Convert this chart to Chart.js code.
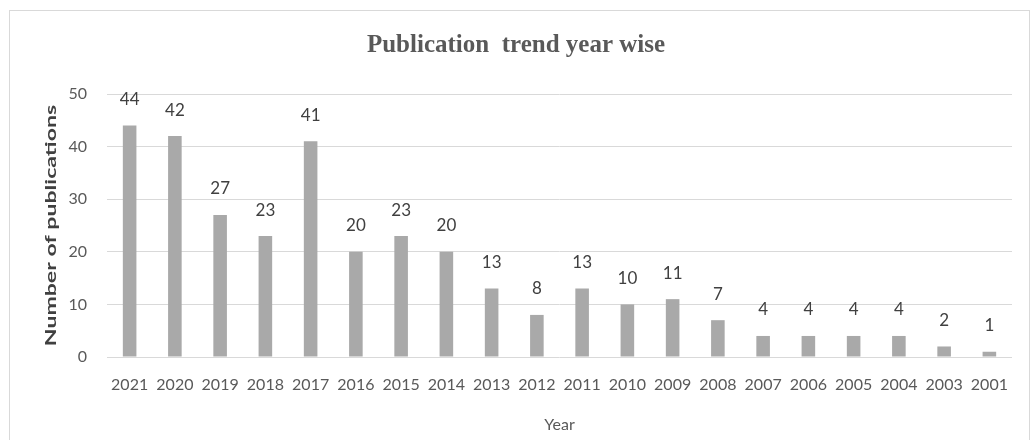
<!DOCTYPE html>
<html>
<head>
<meta charset="utf-8">
<script src="https://cdn.jsdelivr.net/npm/chart.js@4/dist/chart.umd.min.js"></script>
<style>
  html, body { margin: 0; padding: 0; background: #ffffff; }
  #wrap { width: 1034px; height: 440px; position: relative; }
</style>
</head>
<body>
<div id="wrap"><canvas id="c"></canvas></div>
<script>
const categories = ['2021','2020','2019','2018','2017','2016','2015','2014','2013','2012','2011','2010','2009','2008','2007','2006','2005','2004','2003','2001'];
const publications = [44, 42, 27, 23, 41, 20, 23, 20, 13, 8, 13, 10, 11, 7, 4, 4, 4, 4, 2, 1];
const yTicks = [0, 10, 20, 30, 40, 50];
const chartTitle = 'Publication  trend year wise';
const yTitle = 'Number of publications';
const xTitle = 'Year';

const frame = {
  id: 'frame',
  beforeDraw(chart) {
    const ctx = chart.ctx;
    ctx.save();
    ctx.fillStyle = '#ffffff';
    ctx.fillRect(0, 0, chart.width, chart.height);
    ctx.strokeStyle = '#d9d9d9';
    ctx.lineWidth = 1;
    ctx.strokeRect(9.5, 10.5, 1020, 440);
    ctx.restore();
  }
};

const valueLabels = {
  id: 'valueLabels',
  afterDatasetsDraw(chart) {
    const ctx = chart.ctx;
    const meta = chart.getDatasetMeta(0);
    ctx.save();
    ctx.font = '17px Lato';
    ctx.fillStyle = '#404040';
    ctx.textAlign = 'center';
    ctx.textBaseline = 'middle';
    meta.data.forEach((bar, i) => {
      ctx.fillText(String(publications[i]), bar.x, bar.y - 26);
    });
    ctx.restore();
  }
};

const yAxisTitle = {
  id: 'yAxisTitle',
  afterDraw(chart) {
    const ctx = chart.ctx;
    const area = chart.chartArea;
    const ys = chart.scales.y;
    ctx.save();
    ctx.translate(ys.left + 31, (area.top + area.bottom) / 2);
    ctx.rotate(-Math.PI / 2);
    ctx.scale(1.54, 1);
    ctx.font = 'bold 15px Lato';
    ctx.fillStyle = '#404040';
    ctx.textAlign = 'center';
    ctx.textBaseline = 'middle';
    ctx.fillText(yTitle, 0, 0);
    ctx.restore();
  }
};

new Chart(document.getElementById('c'), {
  type: 'bar',
  data: {
    labels: categories,
    datasets: [{
      label: yTitle,
      data: publications,
      backgroundColor: '#a9a9a9',
      barPercentage: 0.6,
      categoryPercentage: 0.5
    }]
  },
  options: {
    responsive: true,
    maintainAspectRatio: false,
    animation: false,
    layout: { padding: { left: 20, right: 22, top: 0, bottom: 0 } },
    plugins: {
      legend: { display: false },
      tooltip: { enabled: false },
      title: {
        display: true,
        text: chartTitle,
        color: '#595959',
        font: { family: 'Liberation Serif', size: 25, weight: 'bold' },
        padding: { top: 31, bottom: 33 }
      }
    },
    scales: {
      x: {
        grid: { display: false, drawTicks: false },
        border: { display: false },
        ticks: {
          color: '#595959',
          font: { family: 'Lato', size: 16 },
          padding: 18,
          maxRotation: 0,
          autoSkip: false
        },
        title: {
          display: true,
          text: xTitle,
          color: '#595959',
          font: { family: 'Lato', size: 16 },
          padding: { top: 0, bottom: 6 }
        },
        afterFit(s) { s.height = 83; }
      },
      y: {
        min: 0,
        max: 50,
        afterBuildTicks(s) { s.ticks = yTicks.map(v => ({ value: v })); },
        grid: { color: '#d9d9d9', drawTicks: false },
        border: { display: false },
        ticks: {
          color: '#595959',
          font: { family: 'Lato', size: 16 },
          padding: 20
        },
        title: { display: false },
        afterFit(s) { s.width = 87; }
      }
    }
  },
  plugins: [frame, valueLabels, yAxisTitle]
});
</script>
</body>
</html>
